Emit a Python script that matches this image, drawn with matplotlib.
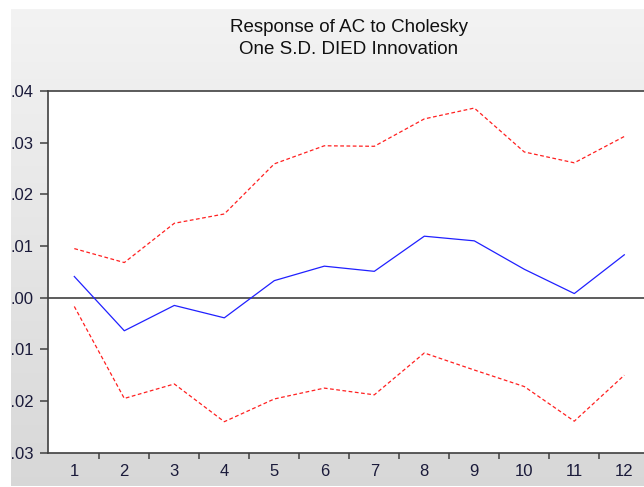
import numpy as np
import matplotlib
matplotlib.use("Agg")
import matplotlib.pyplot as plt
from matplotlib.patches import Rectangle

periods = list(range(1, 13))
response = [0.0041, -0.0064, -0.0015, -0.0039, 0.0033, 0.0061,
            0.0051, 0.0119, 0.0110, 0.0055, 0.0008, 0.0083]
upper = [0.0095, 0.0068, 0.0144, 0.0162, 0.0259, 0.0294,
         0.0293, 0.0346, 0.0367, 0.0282, 0.0261, 0.0312]
lower = [-0.0017, -0.0195, -0.0167, -0.0240, -0.0196, -0.0175,
         -0.0188, -0.0107, -0.0140, -0.0172, -0.0239, -0.0150]
yticks = [-0.03, -0.02, -0.01, 0.00, 0.01, 0.02, 0.03, 0.04]
title_lines = ["Response of AC to Cholesky", "One S.D. DIED Innovation"]

plt.rcParams['font.family'] = ['Liberation Sans', 'DejaVu Sans']

W, H = 644, 487
fig = plt.figure(figsize=(W / 100, H / 100), dpi=100)
fig.patch.set_facecolor('white')

# gradient background
bg = fig.add_axes([0, 0, 1, 1], zorder=-5)
grad = np.linspace(0, 1, 256).reshape(-1, 1)
top_c = np.array([0.955, 0.955, 0.955])
bot_c = np.array([0.845, 0.845, 0.845])
img = top_c[None, None, :] * (1 - grad[:, :, None]) + bot_c[None, None, :] * grad[:, :, None]
bg.imshow(img, aspect='auto', extent=[0, 1, 0, 1], origin='upper')
bg.set_xlim(0, 1)
bg.set_ylim(0, 1)
bg.axis('off')

left_px, right_px = 47.8, 649.3
top_px, bot_px = 91.0, 452.7
ax = fig.add_axes([left_px / W, 1 - bot_px / H, (right_px - left_px) / W, (bot_px - top_px) / H])
ax.set_facecolor('white')

ax.plot(periods, response, color='#2020ff', lw=0.9, zorder=3)
ax.plot(periods, upper, color='#ff2020', lw=0.9, linestyle=(0, (3, 2)), zorder=3)
ax.plot(periods, lower, color='#ff2020', lw=0.9, linestyle=(0, (3, 2)), zorder=3)
ax.axhline(0, color='#303030', lw=1.1, zorder=2)

ax.set_xlim(0.47, 12.5)
ax.set_ylim(-0.03, 0.04)

ax.set_yticks(yticks)
def fmt(v):
    s = f"{v:.2f}"
    s = s.replace("0.", ".")
    return s
ax.set_yticklabels([fmt(v) for v in yticks])

ax.set_xticks([p + 0.5 for p in periods[:-1]])
ax.set_xticklabels([])
ax.set_xticks(periods, minor=True)
ax.set_xticklabels([str(p) for p in periods], minor=True)
ax.tick_params(axis='x', which='major', direction='out', length=4, width=1.1, color='#404040')
ax.tick_params(axis='x', which='minor', length=0, pad=8, labelsize=12, labelcolor='#1a1a3a')
ax.tick_params(axis='y', direction='out', length=6, width=1.1, color='#404040', pad=4,
               labelsize=12, labelcolor='#1a1a3a')

for s in ax.spines.values():
    s.set_color('#404040')
    s.set_linewidth(1.2)

cx = (left_px + right_px) / 2 / W
fig.text(cx, 1 - 27 / H, title_lines[0], ha='center', va='center', fontsize=13.5, color='#111111')
fig.text(cx, 1 - 50 / H, title_lines[1], ha='center', va='center', fontsize=13.5, color='#111111')

# white border strips
for (x0, y0, w, h) in [(0, 0, 11, H), (0, H - 9, W, 9), (0, 0, W, 1.5)]:
    fig.patches.append(Rectangle((x0, y0), w, h, transform=None, facecolor='white',
                                 edgecolor='none', zorder=20))

fig.savefig("out.png", dpi=100)
